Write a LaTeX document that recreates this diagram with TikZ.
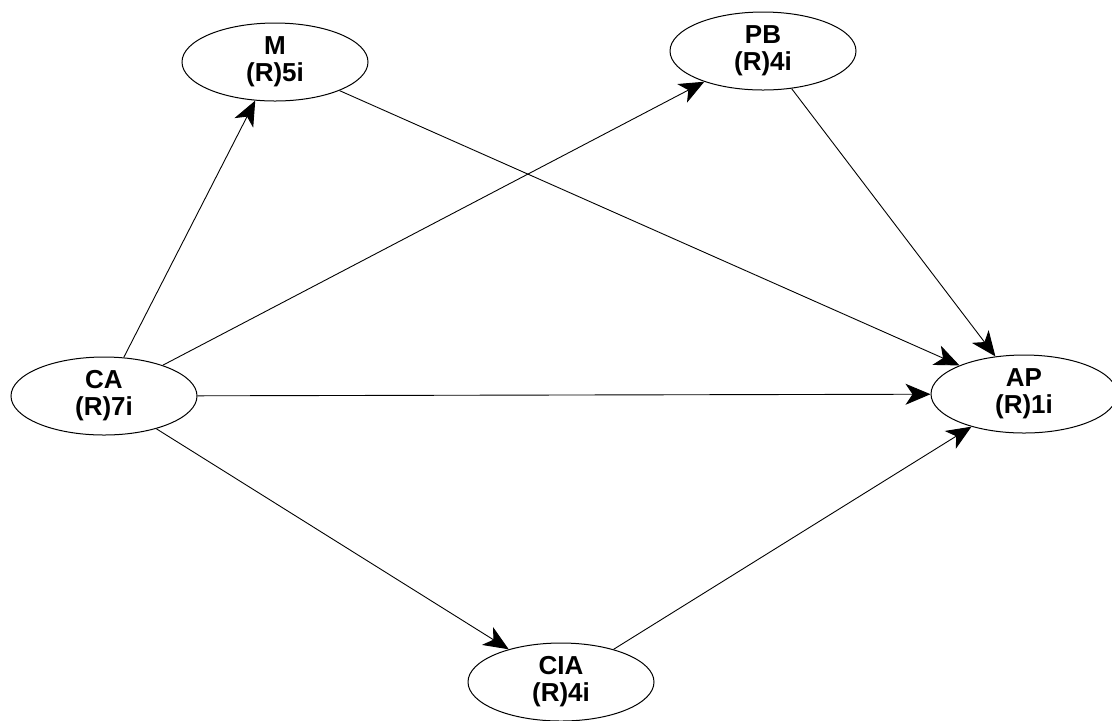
\documentclass[tikz,border=0pt]{standalone}
\usepackage{fontspec}
\setmainfont{Liberation Sans}
\usetikzlibrary{shapes.geometric,arrows.meta}
\tikzset{
	var/.style={draw,ellipse,line width=0.5pt,minimum width=93pt,minimum height=39pt,
		inner sep=0pt,align=center,font=\fontsize{13}{13.5}\selectfont\bfseries},
	path/.style={line width=0.45pt,-{Stealth[length=12.5pt,width=10.5pt,inset=3.5pt]}}
}
\begin{document}
\begin{tikzpicture}[x=0.5pt,y=-0.5pt]
\useasboundingbox (0,0) rectangle (1112,720);
\node[var] (m) at (275,62) {M\\(R)5i};
\node[var] (pb) at (763,51) {PB\\(R)4i};
\node[var] (ca) at (104,396) {CA\\(R)7i};
\node[var] (ap) at (1024,394) {AP\\(R)1i};
\node[var] (cia) at (561,682) {CIA\\(R)4i};
\draw[path] (ca) -- (m);
\draw[path] (ca) -- (pb);
\draw[path] (ca) -- (ap);
\draw[path] (ca) -- (cia);
\draw[path] (m) -- (ap);
\draw[path] (pb) -- (ap);
\draw[path] (cia) -- (ap);
\end{tikzpicture}
\end{document}
